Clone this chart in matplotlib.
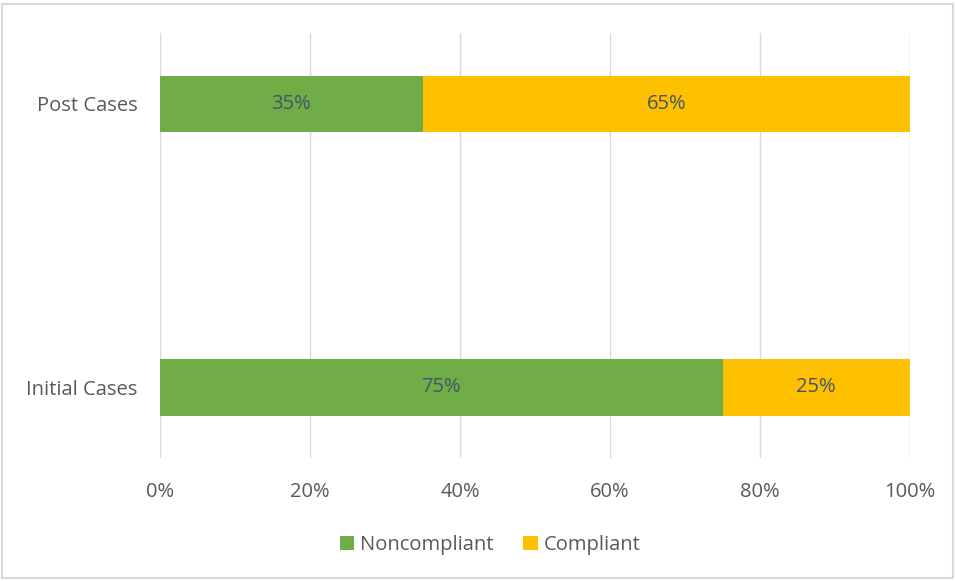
import matplotlib
matplotlib.use("Agg")
import matplotlib.pyplot as plt
from matplotlib.patches import Rectangle

categories = ["Initial Cases", "Post Cases"]
noncompliant = [75, 35]
compliant = [25, 65]
xticks = [0, 20, 40, 60, 80, 100]
xticklabels = ["0%", "20%", "40%", "60%", "80%", "100%"]

green = "#70AD47"
yellow = "#FFC000"
font = "Open Sans"
fs = 14.5

fig = plt.figure(figsize=(9.55, 5.81), dpi=100)
ax = fig.add_axes([160/955, 1-458/581, 750/955, 425/581])

y = range(len(categories))
b1 = ax.barh(y, noncompliant, height=0.2, color=green, label="Noncompliant", zorder=3)
b2 = ax.barh(y, compliant, left=noncompliant, height=0.2, color=yellow, label="Compliant", zorder=3)

for vals, lefts in [(noncompliant, [0, 0]), (compliant, noncompliant)]:
    for i, (v, l) in enumerate(zip(vals, lefts)):
        ax.text(l + v/2, i, f"{v}%", ha="center", va="center", fontsize=fs,
                color="#44546A", family=font, zorder=4)

ax.set_xlim(0, 100)
ax.set_ylim(-0.25, 1.25)
ax.set_xticks(xticks)
ax.set_xticklabels(xticklabels, fontsize=fs, color="#595959", family=font)
ax.set_yticks(list(y))
ax.set_yticklabels(categories, fontsize=fs, color="#595959", family=font)
ax.tick_params(length=0, pad=17, axis="x")
ax.tick_params(length=0, pad=16, axis="y")
ax.grid(axis="x", color="#D9D9D9", linewidth=1, zorder=0)
for s in ax.spines.values():
    s.set_visible(False)

leg = fig.legend(handles=[b1, b2], loc="center", bbox_to_anchor=(490/955, 1-545/581),
                 ncol=2, frameon=False, prop={"family": font, "size": fs},
                 handlelength=0.7, handleheight=0.7, handletextpad=0.3, columnspacing=1.5)
for t in leg.get_texts():
    t.set_color("#595959")

fig.patches.append(Rectangle((2/955, 3/581), 951/955, 574/581, transform=fig.transFigure,
                             fill=False, edgecolor="#D9D9D9", linewidth=1.5))

fig.savefig("out.png", dpi=100)
